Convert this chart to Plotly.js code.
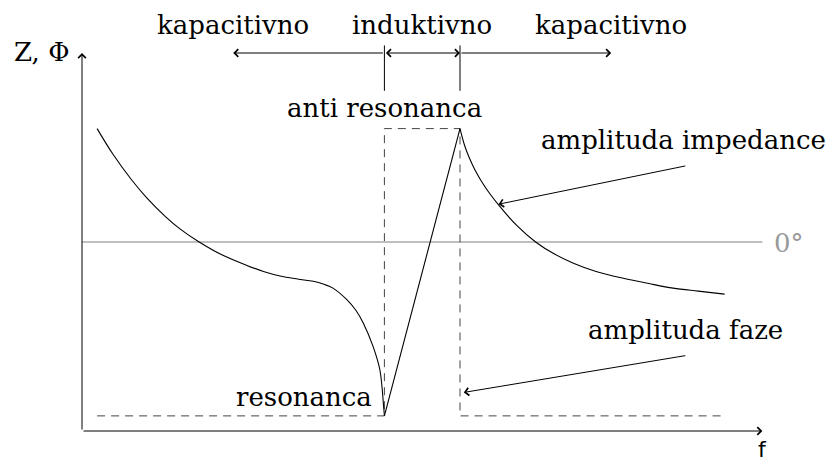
<!DOCTYPE html>
<html>
<head>
<meta charset="utf-8">
<script src="https://cdn.plot.ly/plotly-3.0.1.min.js"></script>
<style>html,body{margin:0;padding:0;background:#fff;}#chart{width:835px;height:461px;}</style>
</head>
<body>
<div id="chart"></div>
<script>
// ---- data (diagram units) ----
const impLeftX  = [0.2, 0.41, 0.65, 0.86, 1.1, 1.3, 1.55, 1.85, 2.18, 2.4, 2.62, 2.85, 3.06, 3.2, 3.32, 3.5, 3.62, 3.72, 3.85, 3.94, 3.99, 4.0];
const impLeftY  = [4.0, 3.66, 3.33, 3.08, 2.84, 2.67, 2.50, 2.33, 2.19, 2.11, 2.05, 2.01, 1.98, 1.94, 1.89, 1.74, 1.60, 1.43, 1.12, 0.81, 0.32, 0.2];
const impRiseX  = [4.0, 5.0];
const impRiseY  = [0.2, 4.0];
const impRightX = [5.0, 5.06, 5.12, 5.2, 5.33, 5.51, 5.75, 6.0, 6.25, 6.5, 6.8, 7.16, 7.5, 7.82, 8.15, 8.5];
const impRightY = [4.0, 3.78, 3.62, 3.45, 3.23, 2.99, 2.72, 2.50, 2.34, 2.22, 2.11, 2.02, 1.95, 1.89, 1.85, 1.81];
const phaseX    = [0.2, 4.0, 4.0, 5.0, 5.0, 8.5];
const phaseY    = [0.2, 0.2, 4.0, 4.0, 0.2, 0.2];
const zeroLineX = [0, 9];
const zeroLineY = [2.5, 2.5];
const axisEnd   = {x: 9, y: 5};
const regionLabels = ['kapacitivno', 'induktivno', 'kapacitivno'];
const regionLabelX = [2, 4.5, 7];
const regionBounds = [2, 4, 5, 7];
const regionY = 5.0;
const tickTop = 5.1, tickBottom = 4.5;

const black = '#000';
const serif = 'DejaVu Serif, Liberation Serif, serif';
const fs = 26;

const traces = [
  {x: zeroLineX, y: zeroLineY, mode: 'lines', line: {color: '#aaaaaa', width: 1.5}},
  {x: phaseX, y: phaseY, mode: 'lines', line: {color: '#444', width: 1, dash: '8px,6px'}},
  {x: impLeftX, y: impLeftY, mode: 'lines', line: {color: black, width: 1.1, shape: 'spline', smoothing: 1}},
  {x: impRiseX, y: impRiseY, mode: 'lines', line: {color: black, width: 1.1}},
  {x: impRightX, y: impRightY, mode: 'lines', line: {color: black, width: 1.1, shape: 'spline', smoothing: 1}},
  // region boundary ticks
  {x: [regionBounds[1], regionBounds[1], null, regionBounds[2], regionBounds[2]],
   y: [tickTop, tickBottom, null, tickTop, tickBottom], mode: 'lines', line: {color: black, width: 1}}
];
traces.forEach(t => { t.showlegend = false; t.hoverinfo = 'skip'; });

function arrow(x, y, ax, ay, extra) {
  return Object.assign({x: x, y: y, ax: ax, ay: ay, xref: 'x', yref: 'y', axref: 'x', ayref: 'y',
    text: '', showarrow: true, arrowhead: 4, arrowsize: 1.5, arrowwidth: 1, arrowcolor: black,
    standoff: 0, startstandoff: 0}, extra || {});
}
function label(text, x, y, opts) {
  return Object.assign({x: x, y: y, xref: 'x', yref: 'y', text: text, showarrow: false,
    xanchor: 'center', yanchor: 'middle', font: {family: serif, size: fs, color: black}}, opts || {});
}

const annotations = [
  // axes
  arrow(axisEnd.x, 0, 0, 0),
  arrow(0, axisEnd.y, 0, 0),
  // region arrows
  arrow(regionBounds[0], regionY, regionBounds[1], regionY),
  arrow(regionBounds[2], regionY, regionBounds[1], regionY, {arrowside: 'end+start', startarrowhead: 4, startarrowsize: 1.5}),
  arrow(regionBounds[3], regionY, regionBounds[2], regionY),
  // pointers
  arrow(5.51, 3.0, 8.0, 3.51),
  arrow(5.05, 0.51, 8.0, 1.0),
  // labels
  label(regionLabels[0], regionLabelX[0], 5.37),
  label(regionLabels[1], regionLabelX[1], 5.37),
  label(regionLabels[2], regionLabelX[2], 5.37),
  label('anti resonanca', 4.0, 4.27),
  label('resonanca', 3.86, 0.45, {xanchor: 'right'}),
  label('amplituda impedance', 7.96, 3.85),
  label('amplituda faze', 7.98, 1.34),
  label('0°', 9.13, 2.49, {xanchor: 'left', font: {family: serif, size: fs, color: '#999999'}}),
  label('Z, Φ', -0.15, 5.01, {xanchor: 'right'}),
  label('f', 9.0, -0.25, {font: {family: 'DejaVu Sans', size: 22, color: black}})
];

const pxPerUnit = 75.6, ox = 82, oy = 431, W = 835, H = 461;
const layout = {
  width: W, height: H,
  margin: {l: 0, r: 0, t: 0, b: 0},
  paper_bgcolor: '#fff', plot_bgcolor: '#fff',
  xaxis: {range: [-ox / pxPerUnit, (W - ox) / pxPerUnit], visible: false, fixedrange: true},
  yaxis: {range: [(oy - H) / pxPerUnit, oy / pxPerUnit], visible: false, fixedrange: true},
  annotations: annotations,
  showlegend: false
};
Plotly.newPlot('chart', traces, layout, {staticPlot: true, displayModeBar: false});
</script>
</body>
</html>
